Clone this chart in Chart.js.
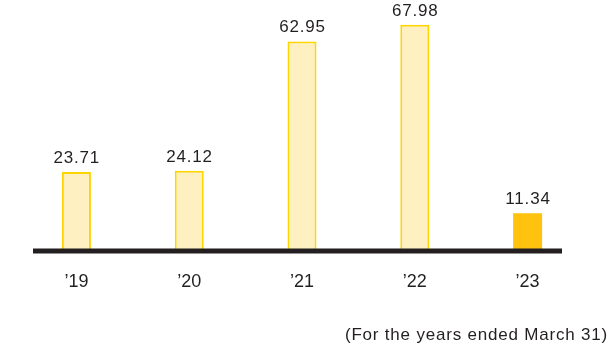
<!DOCTYPE html>
<html>
<head>
<meta charset="utf-8">
<script src="https://cdn.jsdelivr.net/npm/chart.js@4/dist/chart.umd.min.js"></script>
<style>
  html, body { margin: 0; padding: 0; background: #ffffff; }
  #wrap { width: 614px; height: 345px; position: relative; }
</style>
</head>
<body>
<div id="wrap"><canvas id="chart" width="614" height="345"></canvas></div>
<script>
// Fiscal years and reported values
const categories = ['\u201919', '\u201920', '\u201921', '\u201922', '\u201923'];
const values = [23.71, 24.12, 62.95, 67.98, 11.34];
const footnote = '(For the years ended March 31)';

const FONT = '"Liberation Sans", Arial, Helvetica, sans-serif';
const TEXT = '#231f20';

// Past years are pale with a yellow outline; the latest year is solid
const fills = values.map((v, i) => i === values.length - 1 ? '#ffc20e' : '#fff0c2');
const borders = values.map((v, i) => i === values.length - 1 ? 'rgba(0,0,0,0)' : '#ffd500');
const borderWidths = values.map((v, i) => i === values.length - 1 ? 0 : 2);

// Value labels above each bar, dark baseline, and note under the chart
const decorations = {
  id: 'decorations',
  afterDatasetsDraw(chart) {
    const ctx = chart.ctx;
    const meta = chart.getDatasetMeta(0);
    const area = chart.chartArea;
    const y0 = chart.scales.y.getPixelForValue(0);

    ctx.save();
    // baseline
    ctx.fillStyle = '#231f20';
    ctx.fillRect(area.left + 13, y0 - 2.5, area.right - area.left - 35, 5);

    // value labels
    ctx.fillStyle = TEXT;
    ctx.font = '17px ' + FONT;
    ctx.letterSpacing = '0.8px';
    ctx.textAlign = 'center';
    ctx.textBaseline = 'alphabetic';
    meta.data.forEach((bar, i) => {
      ctx.fillText(values[i].toFixed(2), bar.x + 0.4, bar.y - 9);
    });

    // footnote
    ctx.font = '17px ' + FONT;
    ctx.letterSpacing = '0.8px';
    ctx.textAlign = 'right';
    ctx.textBaseline = 'middle';
    ctx.fillText(footnote, 608, 335);
    ctx.restore();
  }
};

new Chart(document.getElementById('chart'), {
  type: 'bar',
  data: {
    labels: categories,
    datasets: [{
      data: values,
      backgroundColor: fills,
      borderColor: borders,
      borderWidth: borderWidths,
      borderSkipped: 'bottom',
      categoryPercentage: 1,
      barPercentage: 0.257
    }]
  },
  options: {
    responsive: false,
    animation: false,
    devicePixelRatio: 1,
    layout: { padding: { top: 18, left: 20, right: 30, bottom: 40.4 } },
    plugins: {
      legend: { display: false },
      tooltip: { enabled: false }
    },
    scales: {
      x: {
        grid: { display: false },
        border: { display: false },
        ticks: {
          color: TEXT,
          font: { family: FONT, size: 18 },
          padding: 12
        }
      },
      y: {
        display: false,
        min: 0,
        max: 70
      }
    }
  },
  plugins: [decorations]
});
</script>
</body>
</html>
